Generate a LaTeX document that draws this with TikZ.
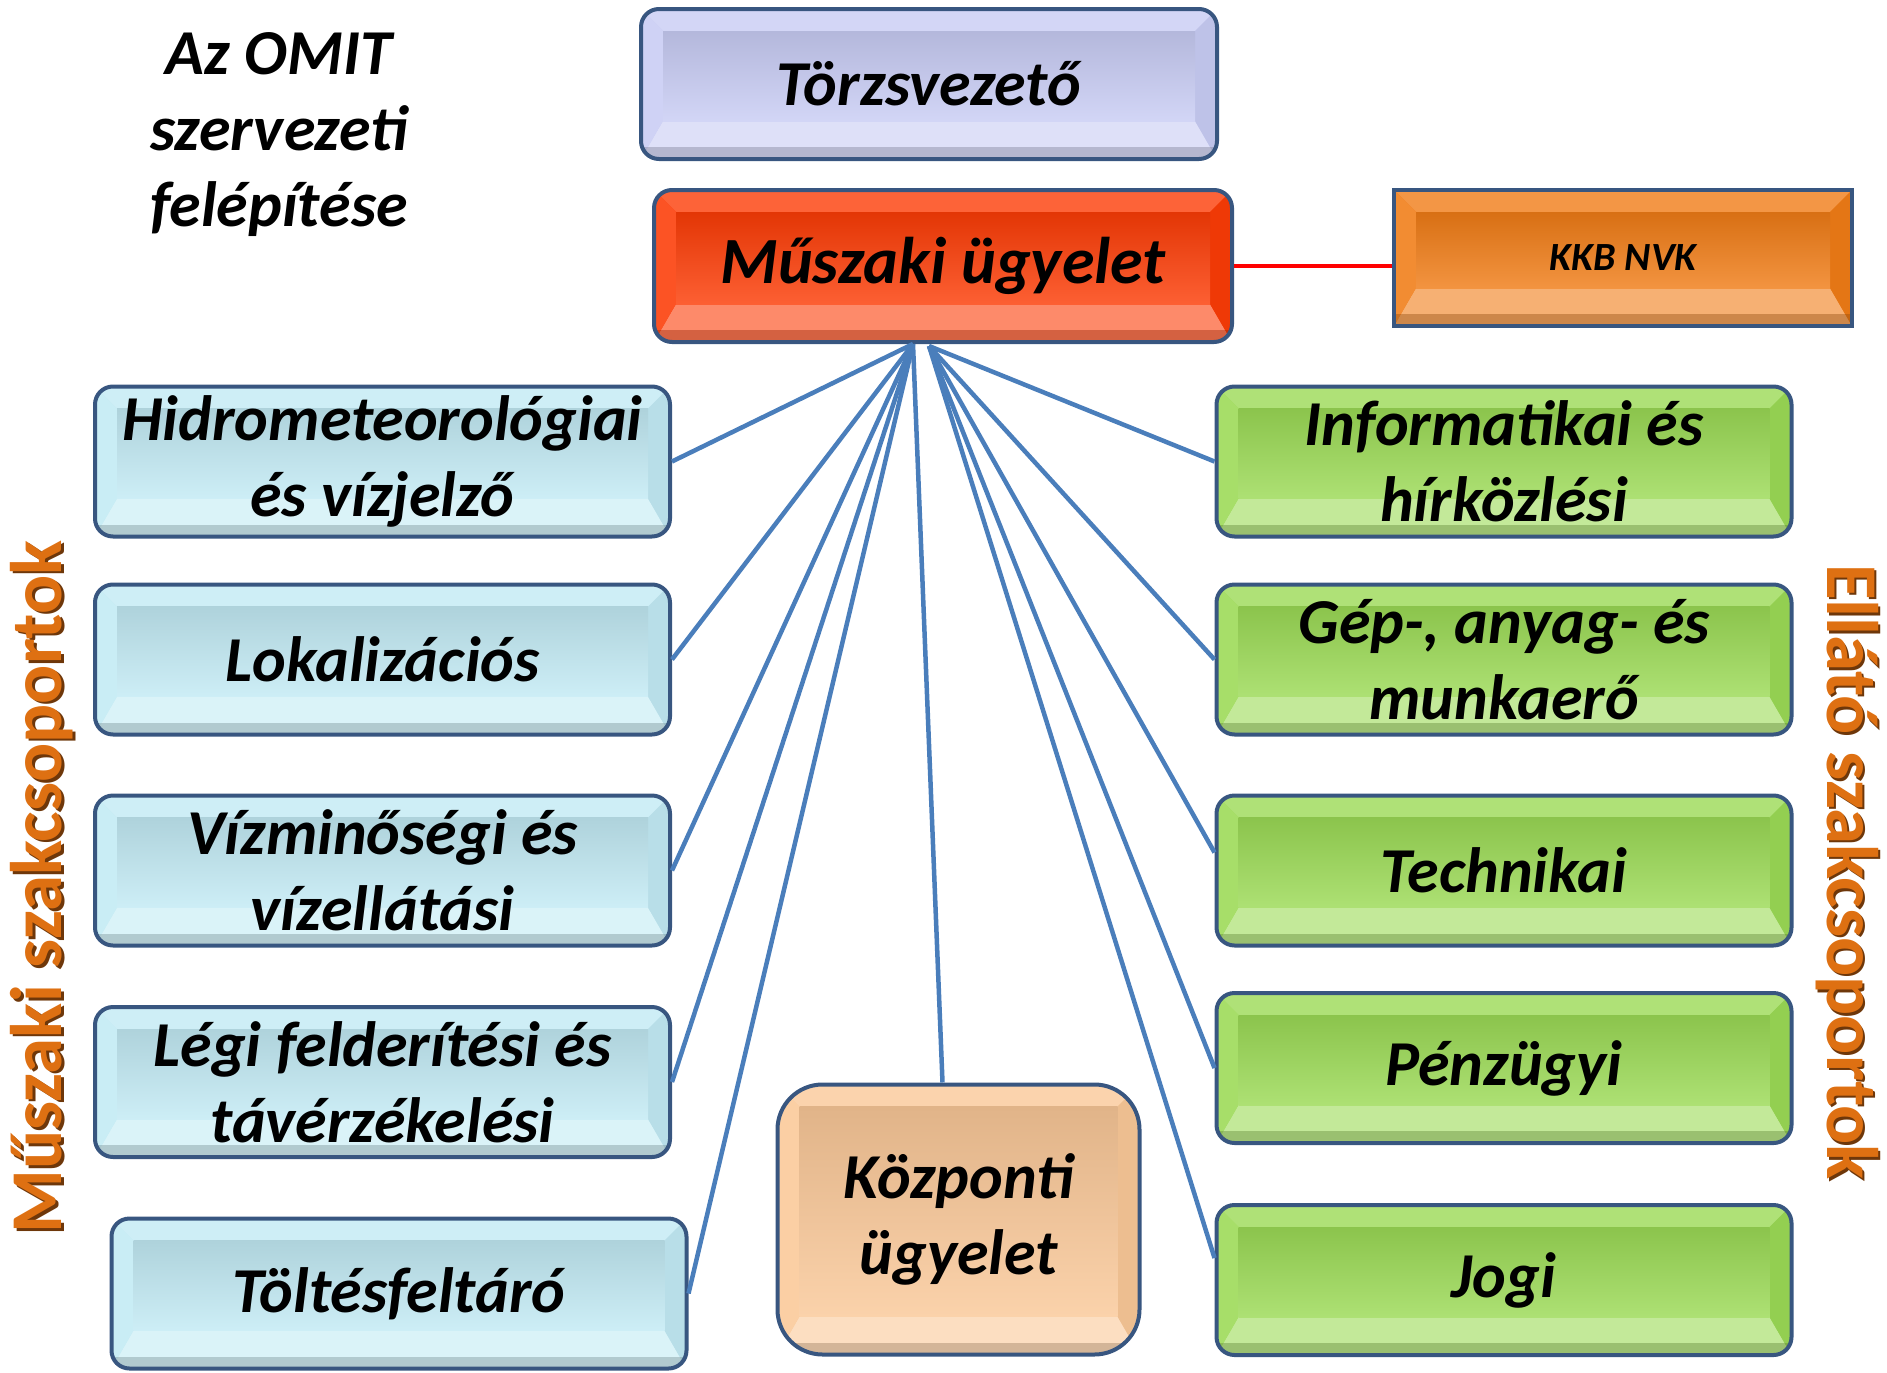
\documentclass[tikz,border=0pt]{standalone}
\usepackage{fontspec}
\setmainfont{Carlito}
\usetikzlibrary{calc}
\definecolor{bord}{RGB}{56,86,128}
\definecolor{lav}{RGB}{200,204,244}
\definecolor{redc}{RGB}{252,60,6}
\definecolor{orng}{RGB}{240,124,22}
\definecolor{cyanb}{RGB}{194,234,244}
\definecolor{grn}{RGB}{155,218,85}
\definecolor{peach}{RGB}{250,200,152}
\definecolor{connc}{RGB}{74,126,187}
\definecolor{sidec}{RGB}{222,112,18}
\definecolor{sideshadow}{RGB}{110,55,10}
\begin{document}
\begin{tikzpicture}[x=1pt,y=-1pt,
  bev/.style={draw=bord, line width=4pt, fill=#1, rounded corners=18pt, inner sep=0pt,
    path picture={
      \path (path picture bounding box.north west) coordinate (q1)
            (path picture bounding box.south east) coordinate (q2);
      \fill[sharp corners,#1!80!white] (q1) -- (q1 -| q2) -- ($(q1 -| q2)+(-22pt,-22pt)$) -- ($(q1)+(22pt,-22pt)$) -- cycle;
      \fill[sharp corners,#1!60!white] (q2 -| q1) -- (q2) -- ($(q2)+(-22pt,38pt)$) -- ($(q2 -| q1)+(22pt,38pt)$) -- cycle;
      \fill[sharp corners,#1!88!white] (q1) -- ($(q1)+(22pt,-22pt)$) -- ($(q2 -| q1)+(22pt,38pt)$) -- (q2 -| q1) -- cycle;
      \fill[sharp corners,#1!95!black] (q1 -| q2) -- ($(q1 -| q2)+(-22pt,-22pt)$) -- ($(q2)+(-22pt,38pt)$) -- (q2) -- cycle;
      \shade[sharp corners,top color=#1!90!black, bottom color=#1!82!white] ($(q1)+(22pt,-22pt)$) rectangle ($(q2)+(-22pt,38pt)$);
      \fill[sharp corners,#1!60!black, opacity=.4] (q2 -| q1) rectangle ($(q2)+(0pt,12pt)$);
    }},
  txt/.style={font=\fontsize{64}{76}\selectfont\bfseries\itshape, align=center, text=black},
  wbox/.style={minimum width=575pt, minimum height=150pt},
  conn/.style={draw=connc, line width=4.5pt},
  side/.style={font=\fontsize{73}{80}\selectfont\bfseries}
]
\path[use as bounding box] (0,0) rectangle (1887,1373);

% title
\node[txt] (title) at (279,135) {Az OMIT\\szervezeti\\felépítése};

% top boxes
\node[bev=lav, minimum width=576pt, minimum height=150pt, txt] (torz) at (929,84) {Törzsvezető};
\node[bev=redc, minimum width=578pt, minimum height=152pt, txt, font=\fontsize{66}{76}\selectfont\bfseries\itshape] (mu) at (943,266) {Műszaki ügyelet};
\node[bev=orng, rounded corners=0pt, minimum width=458pt, minimum height=136pt, txt, font=\fontsize{40}{48}\selectfont\bfseries\itshape] (kkb) at (1623,258) {KKB NVK};

% left column
\node[bev=cyanb, wbox, txt] (hid) at (382.5,461.5) {Hidrometeorológiai\\és vízjelző};
\node[bev=cyanb, wbox, txt] (lok) at (382.5,659.5) {Lokalizációs};
\node[bev=cyanb, wbox, txt] (viz) at (382.5,870.5) {Vízminőségi és\\vízellátási};
\node[bev=cyanb, wbox, txt] (leg) at (382.5,1082) {Légi felderítési és\\távérzékelési};
\node[bev=cyanb, wbox, txt] (tol) at (399,1293.5) {Töltésfeltáró};

% right column
\node[bev=grn, wbox, txt] (inf) at (1504,461.5) {Informatikai és\\hírközlési};
\node[bev=grn, wbox, txt] (gep) at (1504,659.5) {Gép-, anyag- és\\munkaerő};
\node[bev=grn, wbox, txt] (tech) at (1504,870.5) {Technikai};
\node[bev=grn, wbox, txt] (penz) at (1504,1068) {Pénzügyi};
\node[bev=grn, wbox, txt] (jogi) at (1504,1280) {Jogi};

% central duty
\node[bev=peach, rounded corners=45pt, minimum width=362pt, minimum height=270pt, txt] (koz) at (958.5,1219.5) {Központi\\ügyelet};

% side labels
\node[side, rotate=90, text=sideshadow] (lab1s) at (44.5,889.5) {Műszaki szakcsoportok};
\node[side, rotate=90, text=sidec] (lab1) at (42,887) {Műszaki szakcsoportok};
\node[side, rotate=-90, text=sideshadow] (lab2s) at (1849.5,874.5) {Ellátó szakcsoportok};
\node[side, rotate=-90, text=sidec] (lab2) at (1847,872) {Ellátó szakcsoportok};

% connectors
\coordinate (fanL) at ($(mu.south)+(-30pt,0pt)$);
\coordinate (fanR) at ($(mu.south)+(-14pt,-2pt)$);
\draw[conn] (fanL) -- (hid.east);
\draw[conn] (fanL) -- (lok.east);
\draw[conn] (fanL) -- (viz.east);
\draw[conn] (fanL) -- (leg.east);
\draw[conn] (fanL) -- (tol.east);
\draw[conn] (fanL) -- ($(koz.north)+(-16pt,0pt)$);
\draw[conn] (fanR) -- (inf.west);
\draw[conn] (fanR) -- (gep.west);
\draw[conn] (fanR) -- ($(tech.west)+(0pt,18pt)$);
\draw[conn] (fanR) -- (penz.west);
\draw[conn] (fanR) -- ($(jogi.west)+(0pt,22pt)$);
\draw[red, line width=3.5pt] (mu.east) -- (mu.east -| kkb.west);
\end{tikzpicture}
\end{document}
